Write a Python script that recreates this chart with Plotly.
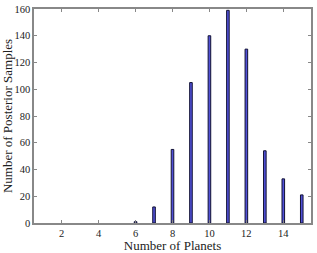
import plotly.graph_objects as go

planets = [1, 2, 3, 4, 5, 6, 7, 8, 9, 10, 11, 12, 13, 14, 15]
samples = [0, 0, 0, 0, 0, 1, 12, 55, 105, 140, 159, 130, 54, 33, 21]
x_ticks = [2, 4, 6, 8, 10, 12, 14]
y_ticks = [0, 20, 40, 60, 80, 100, 120, 140, 160]

font = dict(family="Liberation Serif, DejaVu Serif, serif", size=10.5, color="#222222")
title_font = dict(family="Liberation Serif, DejaVu Serif, serif", size=13, color="#222222")

fig = go.Figure(go.Bar(
    x=planets, y=samples, width=0.14,
    marker=dict(color="#5050d8",
                line=dict(color="#111133", width=[1 if v > 0 else 0 for v in samples])),
))

axis_common = dict(
    showgrid=False, zeroline=False, showline=True, linecolor="#888888", linewidth=1.5,
    mirror="allticks", ticks="inside", ticklen=3, tickcolor="#888888", tickfont=font,
)
fig.update_xaxes(range=[0.5, 15.5], tickvals=x_ticks,
                 title=dict(text="Number of Planets", font=title_font, standoff=1), **axis_common)
fig.update_yaxes(range=[0, 160], tickvals=y_ticks,
                 title=dict(text="Number of Posterior Samples", font=title_font, standoff=1), **axis_common)
fig.update_layout(
    width=317, height=253, margin=dict(l=34, r=4, t=9, b=28),
    plot_bgcolor="white", paper_bgcolor="white", showlegend=False, font=font,
)
fig.write_html("out.html", config={"displayModeBar": False},
               post_script="document.body.style.margin='0';")
